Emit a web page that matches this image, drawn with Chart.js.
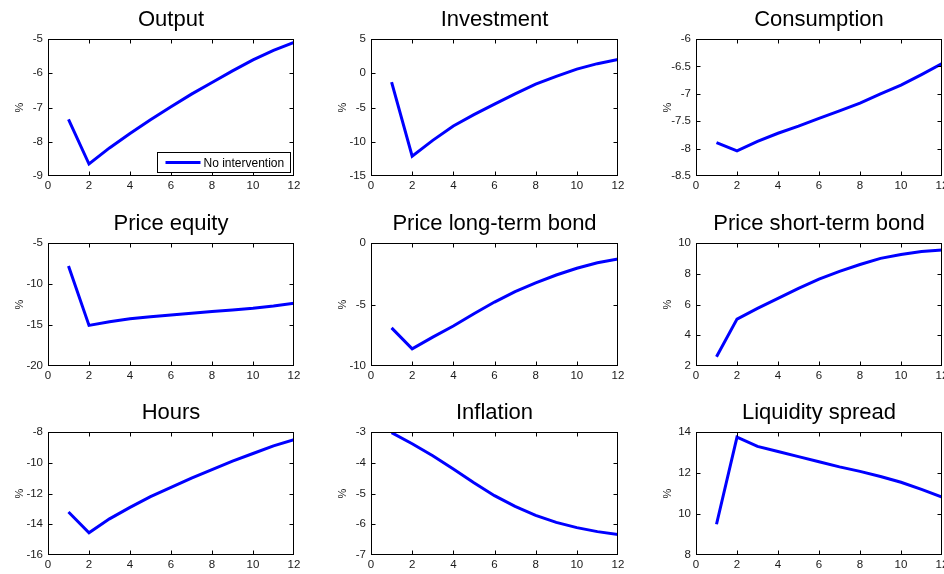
<!DOCTYPE html>
<html>
<head>
<meta charset="utf-8">
<script src="https://cdn.jsdelivr.net/npm/chart.js@4.4.1/dist/chart.umd.min.js"></script>
<style>
  body { margin: 0; background: #fff; width: 944px; height: 574px; overflow: hidden; position: relative; }
  canvas { position: absolute; }
</style>
</head>
<body>
<script>
// quarters after the shock
const periods = [1, 2, 3, 4, 5, 6, 7, 8, 9, 10, 11, 12];

// responses, % deviation
const output      = [-7.35, -8.65, -8.18, -7.76, -7.36, -6.98, -6.61, -6.27, -5.93, -5.61, -5.33, -5.10];
const investment  = [-1.3, -12.1, -9.8, -7.7, -6.05, -4.5, -3.0, -1.6, -0.45, 0.6, 1.4, 2.0];
const consumption = [-7.89, -8.04, -7.87, -7.72, -7.59, -7.45, -7.31, -7.17, -7.0, -6.84, -6.65, -6.45];
const priceEquity = [-7.8, -15.05, -14.6, -14.25, -14.0, -13.77, -13.56, -13.36, -13.16, -12.95, -12.68, -12.35];
const priceLong   = [-6.9, -8.6, -7.65, -6.75, -5.75, -4.8, -3.95, -3.25, -2.6, -2.05, -1.6, -1.3];
const priceShort  = [2.6, 5.05, 5.75, 6.4, 7.05, 7.65, 8.15, 8.6, 9.0, 9.25, 9.45, 9.55];
const hours       = [-13.2, -14.55, -13.65, -12.9, -12.2, -11.6, -11.0, -10.45, -9.9, -9.4, -8.9, -8.5];
const inflation   = [-3.02, -3.38, -3.77, -4.2, -4.65, -5.07, -5.42, -5.71, -5.94, -6.11, -6.24, -6.33];
const liquidity   = [9.5, 13.75, 13.3, 13.05, 12.8, 12.55, 12.3, 12.08, 11.83, 11.55, 11.2, 10.83];

const titles = ['Output', 'Investment', 'Consumption',
                'Price equity', 'Price long-term bond', 'Price short-term bond',
                'Hours', 'Inflation', 'Liquidity spread'];
const series = [output, investment, consumption, priceEquity, priceLong, priceShort, hours, inflation, liquidity];

// y axis ticks per panel
const yMin  = [-9, -15, -8.5, -20, -10, 2, -16, -7, 8];
const yMax  = [-5, 5, -6, -5, 0, 10, -8, -3, 14];
const yStep = [1, 5, 0.5, 5, 5, 2, 2, 1, 2];
const xMin = 0, xMax = 12, xStep = 2;

const seriesLabel = 'No intervention';

// plot box edges in the page
const colLeft  = [48, 371, 696];
const colRight = [294, 618, 942];
const rowTop   = [39, 243, 432];
const rowBot   = [176, 366, 555];

const AXIS_W = 48, TITLE_H = 39, XAXIS_H = 22, PAD_R = 10;
const FONT = "'Liberation Sans', Arial, Helvetica, sans-serif";

Chart.defaults.font.family = FONT;
Chart.defaults.font.size = 11.5;
Chart.defaults.color = '#1a1a1a';

// matlab-ish box with inward ticks, title and legend
const matlabFrame = {
  id: 'matlabFrame',
  afterDraw(chart, args, opts) {
    const { ctx, chartArea: a, scales: { x, y } } = chart;
    const L = Math.round(a.left) + 0.5, R = Math.round(a.right) - 0.5;
    const T = Math.round(a.top) + 0.5, B = Math.round(a.bottom) - 0.5;
    ctx.save();
    ctx.strokeStyle = '#000';
    ctx.lineWidth = 1;
    ctx.strokeRect(L, T, R - L, B - T);
    ctx.beginPath();
    x.ticks.forEach(t => {
      const px = Math.min(R, Math.max(L, Math.round(x.getPixelForValue(t.value)) + 0.5));
      ctx.moveTo(px, B); ctx.lineTo(px, B - 4);
      ctx.moveTo(px, T); ctx.lineTo(px, T + 4);
    });
    y.ticks.forEach(t => {
      const py = Math.min(B, Math.max(T, Math.round(y.getPixelForValue(t.value)) + 0.5));
      ctx.moveTo(L, py); ctx.lineTo(L + 4, py);
      ctx.moveTo(R, py); ctx.lineTo(R - 4, py);
    });
    ctx.stroke();

    ctx.fillStyle = '#000';
    ctx.font = '22px ' + FONT;
    ctx.textAlign = 'center';
    ctx.textBaseline = 'middle';
    ctx.fillText(opts.text, (a.left + a.right) / 2, a.top - 19);

    if (opts.legend) {
      const ds = chart.data.datasets[0];
      const w = 133, h = 20;
      const bx = Math.round(a.right - 4 - w) + 0.5, by = Math.round(a.bottom - 4 - h) + 0.5;
      ctx.fillStyle = '#fff';
      ctx.fillRect(bx, by, w, h);
      ctx.strokeRect(bx, by, w, h);
      ctx.strokeStyle = ds.borderColor;
      ctx.lineWidth = ds.borderWidth;
      ctx.beginPath();
      ctx.moveTo(bx + 8, by + h / 2);
      ctx.lineTo(bx + 43, by + h / 2);
      ctx.stroke();
      ctx.fillStyle = '#000';
      ctx.font = '12px ' + FONT;
      ctx.textAlign = 'left';
      ctx.fillText(ds.label, bx + 46, by + h / 2 + 1);
    }
    ctx.restore();
  }
};

series.forEach((vals, i) => {
  const r = Math.floor(i / 3), c = i % 3;
  const canvas = document.createElement('canvas');
  const w = colRight[c] - colLeft[c] + AXIS_W + PAD_R;
  const h = rowBot[r] - rowTop[r] + TITLE_H + XAXIS_H;
  canvas.width = w;
  canvas.height = h;
  canvas.style.left = (colLeft[c] - AXIS_W) + 'px';
  canvas.style.top = (rowTop[r] - TITLE_H) + 'px';
  document.body.appendChild(canvas);

  new Chart(canvas.getContext('2d'), {
    type: 'line',
    data: {
      datasets: [{
        label: seriesLabel,
        data: periods.map((p, k) => ({ x: p, y: vals[k] })),
        borderColor: '#0000ff',
        backgroundColor: '#0000ff',
        borderWidth: 3,
        pointRadius: 0,
        tension: 0,
        fill: false
      }]
    },
    options: {
      responsive: false,
      animation: false,
      layout: { padding: { top: TITLE_H, right: PAD_R, left: 0, bottom: 0 } },
      scales: {
        x: {
          type: 'linear',
          min: xMin, max: xMax,
          grid: { display: false, drawTicks: false },
          border: { display: false },
          ticks: { stepSize: xStep, padding: 3, maxRotation: 0, callback: v => String(v) },
          afterFit(scale) {
            scale.height = XAXIS_H;
            scale.paddingLeft = 0;
            scale.paddingRight = 0;
          }
        },
        y: {
          min: yMin[i], max: yMax[i],
          grid: { display: false, drawTicks: false },
          border: { display: false },
          ticks: { stepSize: yStep[i], padding: 5, callback: v => String(v) },
          title: { display: true, text: '%', font: { size: 11 }, padding: { top: 13, bottom: 0 } },
          afterFit(scale) {
            scale.width = AXIS_W;
            scale.paddingTop = 0;
            scale.paddingBottom = 0;
          }
        }
      },
      plugins: {
        legend: { display: false },
        tooltip: { enabled: false },
        matlabFrame: { text: titles[i], legend: i === 0 }
      }
    },
    plugins: [matlabFrame]
  });
});
</script>
</body>
</html>
